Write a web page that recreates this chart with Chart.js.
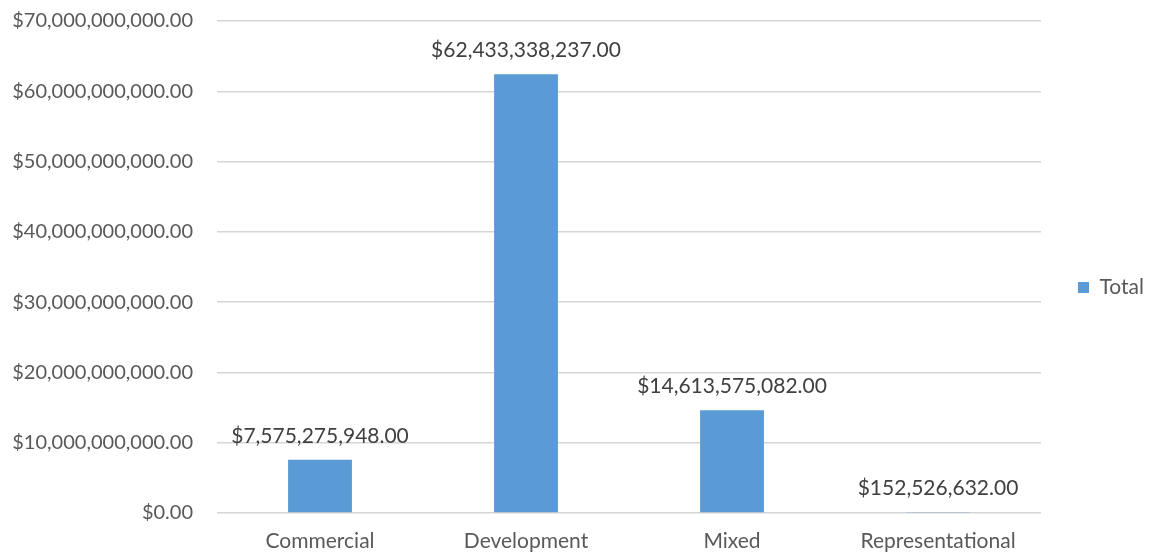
<!DOCTYPE html>
<html>
<head>
<meta charset="utf-8">
<script src="https://cdn.jsdelivr.net/npm/chart.js@4"></script>
<style>
  html,body{margin:0;padding:0;background:#fff;}
  #wrap{width:1154px;height:554px;position:relative;}
</style>
</head>
<body>
<div id="wrap"><canvas id="chart-total"></canvas></div>
<script>
// totales por tipo
const categories = ["Commercial", "Development", "Mixed", "Representational"];
const totals = [7575275948, 62433338237, 14613575082, 152526632];
const seriesName = "Total";
const yMax = 70000000000;
const yStep = 10000000000;

const BLUE = "#5b9bd5";
const FONT = "Lato, 'Liberation Sans', sans-serif";

const money = (n=0) => "$" + Number(n).toLocaleString("en-US", { minimumFractionDigits:2, maximumFractionDigits:2 });

// etiquetas de valor encima de cada barra
const barLabels = {
  id: "barLabels",
  afterDatasetsDraw(chart){
    const { ctx } = chart;
    ctx.save();
    ctx.font = "21px " + FONT;
    ctx.fillStyle = "#404040";
    ctx.textAlign = "center";
    ctx.textBaseline = "middle";
    chart.getDatasetMeta(0).data.forEach((bar, i)=>{
      ctx.fillText(money(totals[i]), bar.x, bar.y - 24);
    });
    ctx.restore();
  }
};

new Chart(document.getElementById("chart-total"), {
  type: "bar",
  data: {
    labels: categories,
    datasets: [{
      label: seriesName,
      data: totals,
      backgroundColor: BLUE,
      borderWidth: 0,
      categoryPercentage: 1,
      barPercentage: 0.31
    }]
  },
  options: {
    responsive: true,
    maintainAspectRatio: false,
    animation: false,
    layout: { padding: { top: 21, left: 0, right: 0, bottom: 0 } },
    plugins: {
      tooltip: { enabled: false },
      legend: {
        position: "right",
        labels: {
          boxWidth: 11, boxHeight: 11, padding: 37,
          color: "#595959",
          font: { family: FONT, size: 21 }
        }
      }
    },
    scales: {
      x: {
        grid: { display: false, drawTicks: false },
        border: { display: false },
        ticks: { color: "#595959", padding: 16, font: { family: FONT, size: 21 } },
        afterFit: s => { s.height = 41; }
      },
      y: {
        min: 0, max: yMax,
        grid: { color: "#d6d6d6", lineWidth: 1.5, drawTicks: false },
        border: { display: false },
        ticks: {
          stepSize: yStep, color: "#595959", padding: 24,
          font: { family: FONT, size: 20 },
          callback: v => money(v)
        },
        // ancho fijo del eje y, sin relleno extra arriba/abajo
        afterFit: s => { s.width = 217; s.paddingTop = 0; s.paddingBottom = 0; }
      }
    }
  },
  plugins: [barLabels]
});
</script>
</body>
</html>
